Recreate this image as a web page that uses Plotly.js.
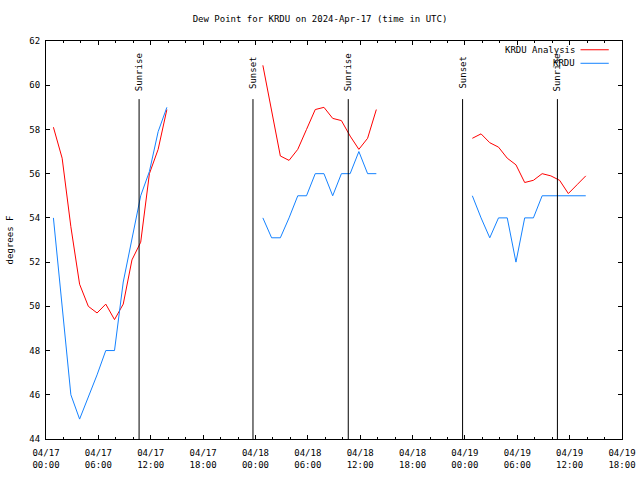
<!DOCTYPE html>
<html>
<head>
<meta charset="utf-8">
<script src="https://cdn.plot.ly/plotly-3.0.1.min.js"></script>
<style>html,body{margin:0;padding:0;background:#fff;}#chart{width:640px;height:480px;}</style>
</head>
<body>
<div id="chart"></div>
<script>
// Observation / analysis times (UTC); null entries break the line between days
const times = [
  '2024-04-17 00:51','2024-04-17 01:51','2024-04-17 02:51','2024-04-17 03:51','2024-04-17 04:51','2024-04-17 05:51','2024-04-17 06:51',
  '2024-04-17 07:51','2024-04-17 08:51','2024-04-17 09:51','2024-04-17 10:51','2024-04-17 11:51','2024-04-17 12:51','2024-04-17 13:51',
  '2024-04-17 19:00',
  '2024-04-18 00:51','2024-04-18 01:51','2024-04-18 02:51','2024-04-18 03:51','2024-04-18 04:51','2024-04-18 05:51','2024-04-18 06:51',
  '2024-04-18 07:51','2024-04-18 08:51','2024-04-18 09:51','2024-04-18 10:51','2024-04-18 11:51','2024-04-18 12:51','2024-04-18 13:51',
  '2024-04-18 19:00',
  '2024-04-19 00:51','2024-04-19 01:51','2024-04-19 02:51','2024-04-19 03:51','2024-04-19 04:51','2024-04-19 05:51','2024-04-19 06:51',
  '2024-04-19 07:51','2024-04-19 08:51','2024-04-19 09:51','2024-04-19 10:51','2024-04-19 11:51','2024-04-19 12:51','2024-04-19 13:51'
];

// Dew point (deg F) from the analysis
const analysisDewpoint = [
  58.1, 56.7, 53.6, 51.0, 50.0, 49.7, 50.1, 49.4, 50.1, 52.1, 52.9, 56.0, 57.1, 58.9,
  null,
  60.9, 58.8, 56.8, 56.6, 57.1, 58.0, 58.9, 59.0, 58.5, 58.4, 57.7, 57.1, 57.6, 58.9,
  null,
  57.6, 57.8, 57.4, 57.2, 56.7, 56.4, 55.6, 55.7, 56.0, 55.9, 55.7, 55.1, 55.5, 55.9
];

// Dew point (deg F) observed at KRDU
const observedDewpoint = [
  54.0, 50.1, 46.0, 44.9, 45.9, 46.9, 48.0, 48.0, 51.1, 53.1, 55.0, 56.1, 57.9, 59.0,
  null,
  54.0, 53.1, 53.1, 54.0, 55.0, 55.0, 56.0, 56.0, 55.0, 56.0, 56.0, 57.0, 56.0, 56.0,
  null,
  55.0, 54.0, 53.1, 54.0, 54.0, 52.0, 54.0, 54.0, 55.0, 55.0, 55.0, 55.0, 55.0, 55.0
];

const seriesNames = ['KRDU Analysis', 'KRDU'];
const seriesColors = ['#ff0000', '#1482ff'];

// Sun events
const eventLabels = ['Sunrise', 'Sunset', 'Sunrise', 'Sunset', 'Sunrise'];
const eventTimes = ['2024-04-17 10:40', '2024-04-17 23:43', '2024-04-18 10:38', '2024-04-18 23:44', '2024-04-19 10:36'];

const titleText = 'Dew Point for KRDU on 2024-Apr-17 (time in UTC)';
const yTitle = 'degrees F';

const FONT = 'DejaVu Sans Mono, Liberation Mono, monospace';

const traces = [
  {x: times, y: analysisDewpoint, name: seriesNames[0], type: 'scatter', mode: 'lines',
   line: {color: seriesColors[0], width: 1}, connectgaps: false, showlegend: false},
  {x: times, y: observedDewpoint, name: seriesNames[1], type: 'scatter', mode: 'lines',
   line: {color: seriesColors[1], width: 1}, connectgaps: false, showlegend: false}
];

const shapes = [];
const annotations = [];
const lineTop = 0.854;
eventTimes.forEach((t, i) => {
  shapes.push({type: 'line', xref: 'x', yref: 'paper', x0: t, x1: t, y0: 0, y1: lineTop,
               line: {color: '#000', width: 1}});
  annotations.push({text: eventLabels[i], xref: 'x', yref: 'paper', x: t, y: 0.922,
                    xanchor: 'center', yanchor: 'middle', textangle: -90, showarrow: false,
                    font: {family: FONT, size: 9, color: '#000'}});
});

// Legend (text at left of line sample, as in reference)
const legY = [0.978, 0.944];
seriesNames.forEach((n, i) => {
  annotations.push({text: n, xref: 'paper', yref: 'paper', x: 0.922, y: legY[i],
                    xanchor: 'right', yanchor: 'middle', showarrow: false,
                    font: {family: FONT, size: 9, color: '#000'}});
  shapes.push({type: 'line', xref: 'paper', yref: 'paper', x0: 0.928, x1: 0.977, y0: legY[i], y1: legY[i],
               line: {color: seriesColors[i], width: 1}});
});

const layout = {
  width: 640, height: 480,
  paper_bgcolor: '#fff', plot_bgcolor: '#fff',
  margin: {l: 46, r: 18, t: 41, b: 41},
  font: {family: FONT, size: 9, color: '#000'},
  title: {text: titleText, x: 0.5, xanchor: 'center', y: 0.961, yanchor: 'middle',
          font: {family: FONT, size: 9, color: '#000'}},
  xaxis: {
    type: 'date',
    range: ['2024-04-17 00:00', '2024-04-19 18:00'],
    dtick: 21600000, tick0: '2024-04-17 00:00',
    tickformat: '%m/%d<br>%H:%M',
    ticks: 'inside', ticklen: 4, tickcolor: '#000', tickwidth: 1,
    minor: {dtick: 7200000, ticks: 'inside', ticklen: 2, tickcolor: '#000', tickwidth: 1},
    showline: true, linecolor: '#000', linewidth: 1, mirror: 'ticks',
    showgrid: false, zeroline: false, ticklabelstandoff: 5,
    tickfont: {family: FONT, size: 9, color: '#000'}
  },
  yaxis: {
    range: [44, 62], dtick: 2, tick0: 44,
    ticks: 'inside', ticklen: 4, tickcolor: '#000', tickwidth: 1,
    showline: true, linecolor: '#000', linewidth: 1, mirror: 'ticks',
    showgrid: false, zeroline: false, ticklabelstandoff: 3,
    tickfont: {family: FONT, size: 9, color: '#000'},
    title: {text: yTitle, font: {family: FONT, size: 9, color: '#000'}, standoff: 14}
  },
  shapes: shapes,
  annotations: annotations,
  showlegend: false
};

Plotly.newPlot('chart', traces, layout, {displayModeBar: false, staticPlot: true});
</script>
</body>
</html>
